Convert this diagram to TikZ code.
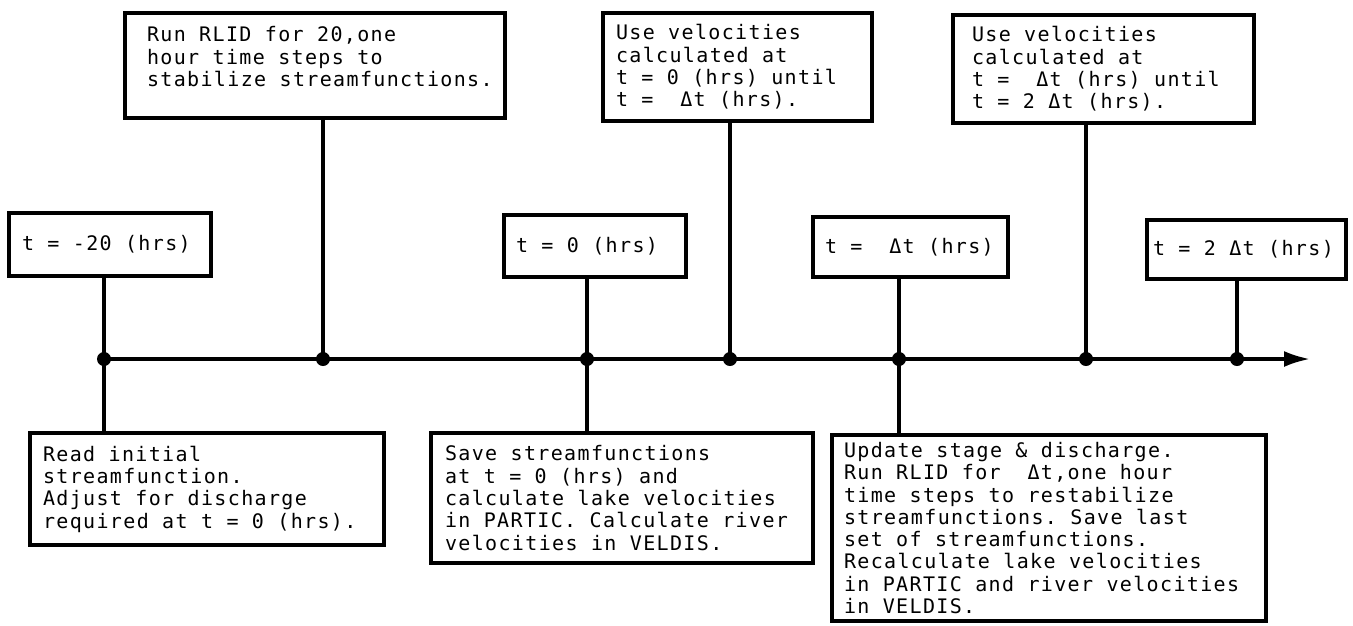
\documentclass[tikz,border=0pt]{standalone}
\usepackage{fontspec}
\newfontfamily\twfont{DejaVu Sans Mono}[LetterSpace=6.8]
\newcommand\gp{\hbox to 13.4pt{}}
\usetikzlibrary{arrows.meta}
\begin{document}
\begin{tikzpicture}[x=1pt,y=-1pt,
  tbox/.style={draw, line width=3.2pt, inner sep=0pt, align=left,
    font=\twfont\fontsize{20}{22.3}\selectfont},
  conn/.style={line width=3.4pt},
  tdot/.style={fill=black}]
\useasboundingbox (0,0) rectangle (1353,625);
% top boxes
\node[tbox, minimum width=380pt, minimum height=105pt, text width=336pt] (A) at (315,65.5)
  {Run\gp RLID\gp for\gp 20,one\\hour\gp time\gp steps\gp to\\stabilize\gp streamfunctions.\\[-11pt]\strut};
\node[tbox, minimum width=269pt, minimum height=108pt, text width=243pt] (C) at (737.5,67)
  {Use\gp velocities\\calculated\gp at\\t\gp =\gp 0\gp (hrs)\gp until\\t\gp =\gp\gp Δt\gp (hrs).};
\node[tbox, minimum width=301pt, minimum height=108pt, text width=263pt] (F) at (1103.5,69)
  {Use\gp velocities\\calculated\gp at\\t\gp =\gp\gp Δt\gp (hrs)\gp until\\t\gp =\gp 2\gp Δt\gp (hrs).};
% time boxes
\node[tbox, minimum width=202pt, minimum height=63pt, text width=176pt] (B) at (110,244.5)
  {t\gp =\gp -20\gp (hrs)};
\node[tbox, minimum width=182pt, minimum height=62pt, text width=158pt] (D) at (595,246)
  {t\gp =\gp 0\gp (hrs)};
\node[tbox, minimum width=195pt, minimum height=60pt, text width=171pt] (E) at (910.5,247)
  {t\gp =\gp\gp Δt\gp (hrs)};
\node[tbox, minimum width=199pt, minimum height=59pt, text width=187pt] (G) at (1246.5,249.5)
  {t\gp =\gp 2\gp Δt\gp (hrs)};
% bottom boxes
\node[tbox, minimum width=354pt, minimum height=112pt, text width=328pt] (H) at (207,489)
  {Read\gp initial\\streamfunction.\\Adjust\gp for\gp discharge\\required\gp at\gp t\gp =\gp 0\gp (hrs).};
\node[tbox, minimum width=382pt, minimum height=130pt, text width=354pt] (I) at (622,498)
  {Save\gp streamfunctions\\at\gp t\gp =\gp 0\gp (hrs)\gp and\\calculate\gp lake\gp velocities\\in\gp PARTIC.\gp Calculate\gp river\\velocities\gp in\gp VELDIS.};
\node[tbox, minimum width=434pt, minimum height=186pt, text width=410pt] (J) at (1049,528)
  {Update\gp stage\gp \&\gp discharge.\\Run\gp RLID\gp for\gp\gp Δt,one\gp hour\\time\gp steps\gp to\gp restabilize\\streamfunctions.\gp Save\gp last\\set\gp of\gp streamfunctions.\\Recalculate\gp lake\gp velocities\\in\gp PARTIC\gp and\gp river\gp velocities\\in\gp VELDIS.};
% timeline points
\coordinate (d1) at (104,359);
\coordinate (d2) at (323,359);
\coordinate (d3) at (587,359);
\coordinate (d4) at (730,359);
\coordinate (d5) at (899,359);
\coordinate (d6) at (1086,359);
\coordinate (d7) at (1237,359);
\coordinate (tip) at (1310,359);
% connectors
\draw[conn, -{Latex[length=26pt,width=16pt]}] (d1) -- (tip);
\draw[conn] (d1 |- B.south) -- (d1) -- (d1 |- H.north);
\draw[conn] (d2 |- A.south) -- (d2);
\draw[conn] (d3 |- D.south) -- (d3) -- (d3 |- I.north);
\draw[conn] (d4 |- C.south) -- (d4);
\draw[conn] (d5 |- E.south) -- (d5) -- (d5 |- J.north);
\draw[conn] (d6 |- F.south) -- (d6);
\draw[conn] (d7 |- G.south) -- (d7);
% dots
\foreach \p in {d1,d2,d3,d4,d5,d6,d7} \fill[tdot] (\p) circle (7pt);
\end{tikzpicture}
\end{document}
